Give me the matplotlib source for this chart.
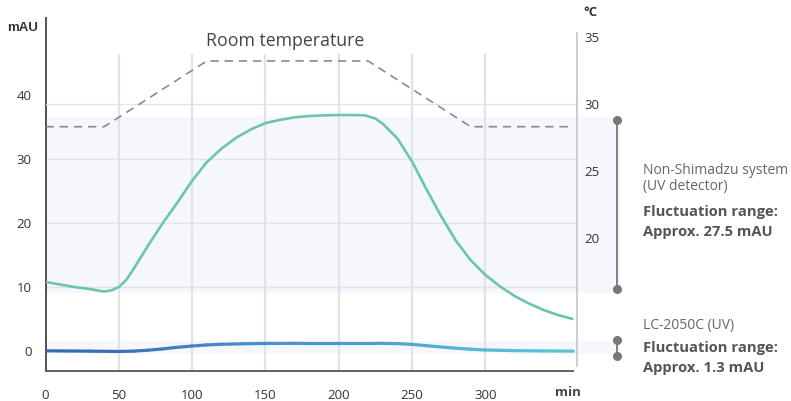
import numpy as np
import matplotlib
matplotlib.use("Agg")
import matplotlib.pyplot as plt
from matplotlib.collections import LineCollection
from matplotlib.colors import LinearSegmentedColormap

# non-Shimadzu system (UV detector), mAU
t_other = [0, 10, 20, 30, 40, 45, 50, 55, 60, 70, 80, 90, 100, 110, 120, 130,
           140, 150, 160, 170, 180, 190, 200, 210, 218, 225, 230, 240, 250,
           260, 270, 280, 290, 300, 310, 320, 330, 340, 350, 360]
y_other = [10.8, 10.4, 10.0, 9.7, 9.3, 9.5, 10.0, 11.1, 12.8, 16.5, 20.0, 23.2,
           26.6, 29.5, 31.6, 33.3, 34.6, 35.6, 36.1, 36.5, 36.7, 36.8, 36.85,
           36.85, 36.8, 36.3, 35.5, 33.2, 29.6, 25.2, 21.0, 17.2, 14.2, 11.9,
           10.1, 8.6, 7.4, 6.4, 5.6, 5.0]

# LC-2050C (UV), mAU
t_lc = [0, 30, 50, 60, 70, 80, 90, 100, 110, 120, 135, 150, 175, 200, 225,
        240, 250, 260, 275, 290, 300, 320, 340, 360]
y_lc = [0.05, 0.0, -0.05, 0.0, 0.15, 0.35, 0.6, 0.8, 0.97, 1.07, 1.15, 1.2,
        1.22, 1.22, 1.22, 1.18, 1.05, 0.85, 0.55, 0.3, 0.18, 0.08, 0.03, 0.0]

# room temperature, degC
t_room = [0, 40, 110, 220, 290, 360]
temp_room = [28.3, 28.3, 33.2, 33.2, 28.3, 28.3]

mau_ticks = [0, 10, 20, 30, 40]
temp_ticks = [20, 25, 30, 35]
min_ticks = [0, 50, 100, 150, 200, 250, 300]

W, H = 791, 401
fig = plt.figure(figsize=(W / 100, H / 100), dpi=100)
ax = fig.add_axes([45.5 / W, 1 - 371 / H, (577 - 45.5) / W, (371 - 18) / H])

ax.set_xlim(0, 362.5)
ax.set_ylim(-3.1, 52.0)

band_col = "#f5f7fc"
ax.add_patch(plt.Rectangle((0, 9.1), 392, 36.6 - 9.1, color=band_col,
                           lw=0, clip_on=False, zorder=0))
ax.add_patch(plt.Rectangle((0, -0.45), 392, 1.55 + 0.45, color=band_col,
                           lw=0, clip_on=False, zorder=0))

grid_col = "#e2e2ea"
for y in [10, 20, 30]:
    ax.plot([0, 362.5], [y, y], color=grid_col, lw=1.0, zorder=1)
ax.vlines(min_ticks[1:], -3.1, 46.4, color=grid_col, lw=1.6, zorder=1)

ax.plot(t_other, y_other, color="#6cc6a7", lw=1.9, zorder=4,
        solid_capstyle="butt")

pts = np.array([t_lc, y_lc]).T.reshape(-1, 1, 2)
segs = np.concatenate([pts[:-1], pts[1:]], axis=1)
cmap = LinearSegmentedColormap.from_list("lc", ["#3a6ab4", "#4a93c9", "#5bc3d8"])
lc = LineCollection(segs, cmap=cmap, lw=2.3, zorder=5, capstyle="round")
lc.set_array(np.linspace(0, 1, len(segs)))
ax.add_collection(lc)

ax.spines["top"].set_visible(False)
ax.spines["right"].set_visible(False)
ax.spines["left"].set_color("#444444")
ax.spines["left"].set_linewidth(1.3)
ax.spines["bottom"].set_color("#555555")
ax.spines["bottom"].set_linewidth(1.3)
ax.spines["bottom"].set_bounds(0, 360)

tick_font = dict(family="Open Sans", size=9.5, color="#333333")
ax.set_xticks(min_ticks)
ax.set_xticklabels([str(v) for v in min_ticks], **tick_font)
ax.set_yticks(mau_ticks)
ax.set_yticklabels([str(v) for v in mau_ticks], **tick_font)
ax.tick_params(axis="both", length=0)
ax.tick_params(axis="x", pad=13)
ax.tick_params(axis="y", pad=10)

ax2 = ax.twinx()
ax2.set_ylim(10.1, 36.4)
ax2.plot([0, 362.5], [30, 30], color=grid_col, lw=1.0, zorder=1)
ax2.plot(t_room, temp_room, color="#8a8a8a", lw=1.2,
         linestyle=(0, (5, 3.5)), zorder=3)
for s in ["top", "left", "bottom"]:
    ax2.spines[s].set_visible(False)
ax2.spines["right"].set_color("#c4c4c4")
ax2.spines["right"].set_linewidth(1.2)
ax2.spines["right"].set_bounds(10.5, 35.3)
ax2.set_yticks(temp_ticks)
ax2.set_yticklabels([str(v) for v in temp_ticks], **tick_font)
ax2.tick_params(axis="y", length=0, pad=5)


def px(x, y):
    return x / W, 1 - y / H


# range brackets
br_x = 617
for y0, y1 in [(120, 289), (340, 356)]:
    fig.add_artist(plt.Line2D([br_x / W, br_x / W], [1 - y0 / H, 1 - y1 / H],
                              color="#777777", lw=1.3))
    for yy in (y0, y1):
        fig.add_artist(plt.Line2D([br_x / W], [1 - yy / H], marker="o",
                                  ms=5.5, color="#777777", lw=0))

fig.text(*px(23, 28), "mAU", family="Liberation Sans", weight="bold",
         size=9.5, color="#333333", ha="center", va="center")
fig.text(*px(590, 13), "°C", family=["Open Sans", "DejaVu Sans"],
         weight="bold", size=9.5, color="#333333", ha="center", va="center")
fig.text(*px(568, 392), "min", family="Open Sans", weight="bold",
         size=9.5, color="#444444", ha="center", va="center")
fig.text(*px(285, 41), "Room temperature", family="Open Sans",
         size=12.8, color="#444444", ha="center", va="center")

note = dict(family="Open Sans", size=10, color="#666666", ha="left",
            va="center")
bold = dict(family="Open Sans", size=10.6, weight="bold", color="#555555",
            ha="left", va="center")
fig.text(*px(643, 170), "Non-Shimadzu system", **note)
fig.text(*px(643, 187), "(UV detector)", **note)
fig.text(*px(643, 212), "Fluctuation range:", **bold)
fig.text(*px(643, 232), "Approx. 27.5 mAU", **bold)
fig.text(*px(643, 325), "LC-2050C (UV)", **note)
fig.text(*px(643, 348), "Fluctuation range:", **bold)
fig.text(*px(643, 368), "Approx. 1.3 mAU", **bold)

fig.savefig("out.png", dpi=100)
